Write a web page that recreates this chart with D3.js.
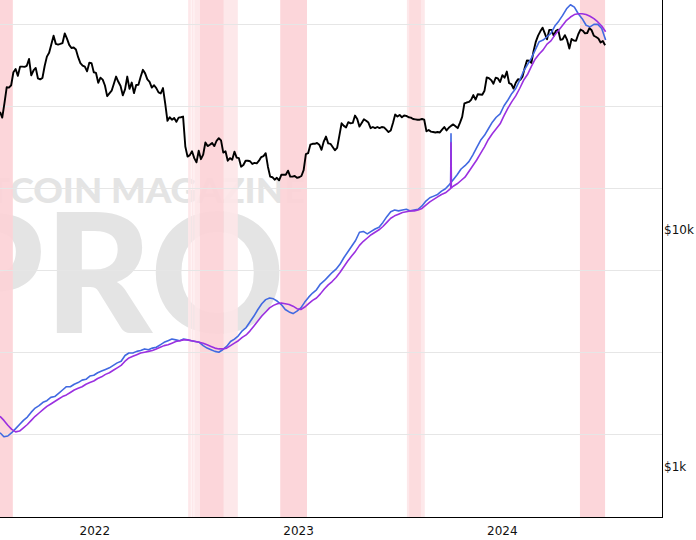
<!DOCTYPE html>
<html><head><meta charset="utf-8">
<script src="https://cdn.jsdelivr.net/npm/d3@7"></script>
<style>body{margin:0;background:#fff;} svg{display:block;}</style>
</head><body><svg id="chart" width="696" height="540"></svg>
<script>
// ---------------- DATA ----------------
const priceStart = "2021-07-16";
const priceStepDays = 4;
// BTC price (thousand USD), every 4 days
const priceK = [
 31.5,29.8,34.3,40.0,39.9,40.8,46.3,47.8,44.7,48.9,48.9,48.8,49.3,52.7,44.9,47.1,48.3,43.6,43.2,43.8,
 49.2,53.9,56.0,60.8,66.0,61.0,60.6,61.0,61.5,67.5,64.2,60.4,58.6,58.9,57.8,53.6,50.6,49.4,48.9,46.7,
 50.8,50.6,46.3,
 46.0,41.8,43.9,43.1,40.7,36.7,37.7,
 38.7,41.4,44.4,42.2,40.5,37.0,39.2,
 44.4,39.4,41.9,37.8,40.9,41.0,44.3,47.4,
 45.8,43.2,42.2,39.9,40.8,39.7,38.1,37.7,
 39.7,34.1,28.9,29.9,29.2,29.7,28.6,
 29.8,29.9,30.1,22.5,20.4,20.7,21.5,20.1,
 19.3,21.6,19.9,20.8,23.4,22.6,22.9,23.3,
 22.6,23.8,24.4,23.9,21.2,21.5,19.6,
 20.1,19.8,21.4,20.2,20.1,18.5,18.8,19.6,
 19.6,19.5,19.0,19.2,19.1,19.6,20.3,20.5,
 21.1,18.5,16.8,16.7,16.3,16.6,16.2,
 17.1,17.1,17.1,17.8,16.8,16.8,16.9,16.6,
 16.7,16.9,17.9,20.9,21.1,22.9,23.1,23.1,
 23.3,22.9,21.8,23.6,24.8,23.2,23.1,
 22.4,21.7,22.2,25.0,28.2,27.5,27.1,
 28.5,28.2,28.3,30.4,29.4,27.3,28.3,29.3,
 28.9,28.4,26.9,27.2,26.9,27.2,26.9,27.2,
 27.1,26.5,25.9,26.3,28.3,30.7,30.1,
 30.6,29.9,30.4,30.3,29.9,29.8,29.4,29.3,
 29.2,29.2,29.4,29.2,26.1,26.4,26.0,25.9,
 25.8,25.9,25.8,26.5,27.2,26.3,27.0,
 27.5,27.9,27.4,26.9,28.3,30.0,34.2,34.5,
 34.7,35.4,37.1,35.5,37.4,37.3,37.2,
 38.7,44.0,43.7,42.9,41.4,43.9,43.6,42.1,
 45.0,43.9,46.6,41.7,41.3,39.5,41.8,43.3,
 43.0,44.3,48.3,51.9,51.8,50.7,57.0,
 62.4,66.1,68.9,71.4,67.6,63.8,69.9,69.9,
 66.0,69.3,70.0,63.4,63.8,66.4,63.4,
 58.3,64.0,63.0,62.9,67.0,70.1,69.3,67.6,
 67.8,71.1,69.6,66.0,65.2,64.3,61.8,62.7,
 60.2
];

const hashStart = "2021-07-16";
const hashStepDays = 7;
// Hash rate 30-day MA (EH/s), weekly
const hash30 = [
 102,97,98,102,107,112,117,121,127,132,135,139,141,145,146,150,154,158,158,161,
 163,166,167,171,172,175,177,179,181,184,187,189,196,199,199,201,202,204,203,205,
 206,209,212,214,216,215,214,216,215,214,213,212,208,205,203,201,200,203,207,213,
 216,220,226,230,237,244,252,259,264,266,265,262,258,252,249,247,250,254,261,267,
 272,276,283,287,292,297,301,307,315,322,329,336,346,347,344,347,350,352,358,365,
 371,373,372,373,374,372,373,374,378,384,388,390,392,396,399,404,410,416,423,427,
 432,440,449,458,464,472,480,486,490,500,507,515,521,531,542,550,558,568,578,580,
 584,588,597,603,610,618,623,620,612,606,598,596,599,599,594,580
];
// Hash rate 60-day MA (EH/s), weekly
const hash60 = [
 122,117,111,106,103,104,108,112,117,122,126,130,134,137,140,143,146,148,151,154,
 156,158,161,163,165,168,170,173,175,178,181,184,189,193,195,197,199,200,201,202,
 204,206,208,209,211,213,214,215,215,214,213,212,211,209,207,205,204,204,205,208,
 211,214,218,221,226,232,238,244,249,254,257,259,260,259,258,256,253,252,255,259,
 263,266,271,277,282,286,291,297,304,311,317,323,330,335,339,343,346,349,353,358,
 363,366,368,370,371,372,372,373,375,379,383,386,389,392,394,398,402,405,409,413,
 420,427,434,442,450,459,466,472,478,488,497,505,512,521,531,538,548,557,563,568,
 575,579,586,592,598,604,608,611,612,612,611,609,606,602,597,590
];
const spikeDate = "2023-10-02";
const spike30 = 466;
const spike60 = 455;

// capitulation bands (start, end, level)
const bandStart = ["2021-07-01","2022-06-18","2022-06-24","2022-06-29","2022-07-09","2022-08-21","2022-11-30","2023-07-15","2023-07-19","2024-05-20"];
const bandEnd   = ["2021-08-08","2022-06-23","2022-06-28","2022-07-09","2022-08-21","2022-09-15","2023-01-17","2023-08-16","2023-08-09","2024-07-04"];
const bandLevel = ["strong","light","light","light","strong","light","strong","light","medium","strong"];

const hashGridValues = [100,200,300,400,500,600];
const priceTicks = [1000, 10000];
const priceTickLabels = ["$1k","$10k"];
const yearTicks = ["2022-01-01","2023-01-01","2024-01-01"];
const domainStart = "2021-07-16", domainEnd = "2024-10-14";

// ---------------- CHART ----------------
const W = 662, H = 517;
const parse = d3.utcParse("%Y-%m-%d");
const DAY = 864e5;
const svg = d3.select("#chart");

const x = d3.scaleUtc().domain([parse(domainStart), parse(domainEnd)]).range([0, W]);
const yHash = d3.scaleLinear().domain([0, 600]).range([516.5, 23.6]);
const yPrice = d3.scaleLog().domain([1000, 10000]).range([467, 230]);

const defs = svg.append("defs");
defs.append("clipPath").attr("id","plot").append("rect").attr("x",0).attr("y",0).attr("width",W).attr("height",H);
const g = svg.append("g").attr("clip-path","url(#plot)");

// watermark
g.append("text").text("BITCOIN MAGAZINE")
  .attr("x",-47).attr("y",203).attr("textLength",352).attr("lengthAdjust","spacingAndGlyphs")
  .style("font-family","Lato, 'Open Sans', sans-serif").style("font-weight",900)
  .style("font-size","35px").style("fill","#e4e4e4");
g.append("text").text("PRO")
  .attr("x",-60).attr("y",333).attr("textLength",345).attr("lengthAdjust","spacingAndGlyphs")
  .style("font-family","Lato, 'Open Sans', sans-serif").style("font-weight",900)
  .style("font-size","165px").style("fill","#e4e4e4");

// bands
const bandColor = {strong:"#fcd3d7", light:"#fde6e8", medium:"#fcdadd"};
const bands = bandStart.map((s,i)=>({s:parse(s), e:parse(bandEnd[i]), lvl:bandLevel[i]}));
g.append("g").selectAll("rect").data(bands).join("rect")
  .attr("x", d=>x(d.s)).attr("y",0)
  .attr("width", d=>Math.max(0.5, x(d.e)-x(d.s))).attr("height",H)
  .attr("fill", d=>bandColor[d.lvl]).attr("opacity",0.93);

// grid
g.append("g").selectAll("line").data(hashGridValues).join("line")
  .attr("x1",0).attr("x2",W)
  .attr("y1",d=>Math.round(yHash(d))+0.5).attr("y2",d=>Math.round(yHash(d))+0.5)
  .attr("stroke","#e6e6e6").attr("stroke-width",1);

// series
const t0p = parse(priceStart);
const priceData = priceK.map((v,i)=>({d:new Date(+t0p + i*priceStepDays*DAY), v:v*1000}));
const t0h = parse(hashStart);
function hashSeries(arr, spikeVal){
  const pts = arr.map((v,i)=>({d:new Date(+t0h + i*hashStepDays*DAY), v}));
  const sd = parse(spikeDate);
  const k = pts.findIndex(p=>p.d > sd);
  if (k > 0){
    const a = pts[k-1], b = pts[k];
    const f = t => a.v + (b.v-a.v)*((t - a.d)/(b.d - a.d));
    const t1 = new Date(+sd - 0.6*DAY), t2 = new Date(+sd + 0.6*DAY);
    pts.splice(k, 0, {d:t1, v:f(t1)}, {d:sd, v:spikeVal}, {d:t2, v:f(t2)});
  }
  return pts;
}
const h30 = hashSeries(hash30, spike30);
const h60 = hashSeries(hash60, spike60);

g.append("path").datum(priceData)
  .attr("d", d3.line().x(d=>x(d.d)).y(d=>yPrice(d.v)))
  .attr("fill","none").attr("stroke","#000").attr("stroke-width",1.9).attr("stroke-linejoin","round");
g.append("path").datum(h30)
  .attr("d", d3.line().x(d=>x(d.d)).y(d=>yHash(d.v)))
  .attr("fill","none").attr("stroke","#4169e1").attr("stroke-width",1.6).attr("stroke-linejoin","round");
g.append("path").datum(h60)
  .attr("d", d3.line().x(d=>x(d.d)).y(d=>yHash(d.v)))
  .attr("fill","none").attr("stroke","#9b30e0").attr("stroke-width",1.6).attr("stroke-linejoin","round");

// borders
svg.append("line").attr("x1",W+0.5).attr("x2",W+0.5).attr("y1",0).attr("y2",H+1).attr("stroke","#000");
svg.append("line").attr("x1",0).attr("x2",W+1).attr("y1",H+0.5).attr("y2",H+0.5).attr("stroke","#000");

// axes
const font = "Verdana, 'DejaVu Sans', sans-serif";
const ax = svg.append("g").attr("transform",`translate(0,${H})`)
  .call(d3.axisBottom(x).tickValues(yearTicks.map(parse)).tickFormat(d3.utcFormat("%Y")).tickSize(0).tickPadding(9));
ax.select(".domain").remove();
ax.selectAll("text").style("font-family",font).style("font-size","12px").style("fill","#111");

const ay = svg.append("g").attr("transform",`translate(${W},0)`)
  .call(d3.axisRight(yPrice).tickValues(priceTicks).tickFormat((d,i)=>priceTickLabels[i]).tickSize(0).tickPadding(2));
ay.select(".domain").remove();
ay.selectAll("text").style("font-family",font).style("font-size","12px").style("fill","#111");
</script>
</body></html>
